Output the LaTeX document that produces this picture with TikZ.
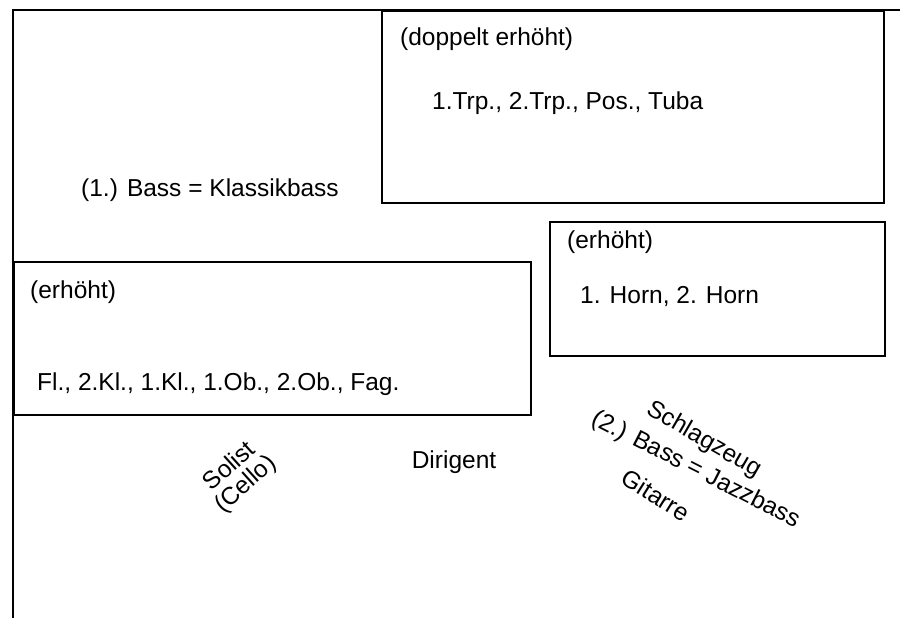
\documentclass[tikz,border=0pt]{standalone}
\usepackage{fontspec}
\setmainfont{Liberation Sans}
\usetikzlibrary{positioning}

\begin{document}
\begin{tikzpicture}[
  x=1pt, y=-1pt,
  zone/.style={rectangle, draw=black, line width=1.5pt, anchor=north west, inner sep=0pt},
  lbl/.style={font=\fontsize{24.5}{27}\selectfont, inner sep=0pt, anchor=west},
  tilt/.style={font=\fontsize{24.5}{24}\selectfont, inner sep=0pt, align=center}
]
\useasboundingbox (0,0) rectangle (900,618);
% stage frame
\coordinate (fr-ne) at (900,10);
\coordinate (fr-nw) at (13,10);
\coordinate (fr-sw) at (13,618);
\draw[line width=1.5pt] (fr-ne) -- (fr-nw) -- (fr-sw);

% risers
\node[zone, minimum width=502pt, minimum height=191pt] (brass) at (381,11) {};
\node[zone, minimum width=335pt, minimum height=134pt] (horns) at (549,221) {};
\node[zone, minimum width=517pt, minimum height=153pt] (winds) at (13,261) {};

\node[lbl] (brass-h) at ([shift={(19,28)}]brass.north west) {(doppelt erhöht)};
\node[lbl] (brass-t) at ([shift={(51,92)}]brass.north west) {1.Trp., 2.Trp., Pos., Tuba};
\node[lbl] (horns-h) at ([shift={(18,21)}]horns.north west) {(erhöht)};
\node[lbl] (horns-t) at ([shift={(31,76)}]horns.north west) {1. Horn, 2. Horn};
\node[lbl] (winds-h) at ([shift={(17,31)}]winds.north west) {(erhöht)};
\node[lbl] (winds-t) at ([shift={(24,123)}]winds.north west) {Fl., 2.Kl., 1.Kl., 1.Ob., 2.Ob., Fag.};

% free placings
\node[lbl] (bass1) at (81,190) {(1.) Bass = Klassikbass};
\node[tilt] (dirigent) at (454,462) {Dirigent};
\node[tilt, rotate=42] (solist) at (238,476) {Solist\\(Cello)};
\node[tilt, rotate=-30] (schlag) at (704,440) {Schlagzeug};
\node[tilt, rotate=-27] (bass2) at (696,470) {(2.) Bass = Jazzbass};
\node[tilt, rotate=-32] (gitarre) at (656,495) {Gitarre};
\end{tikzpicture}
\end{document}
